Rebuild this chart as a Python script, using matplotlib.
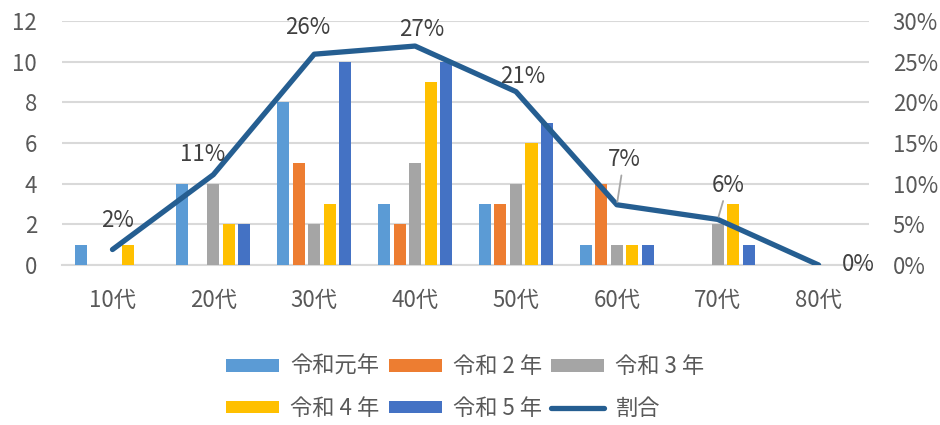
import matplotlib
matplotlib.use('Agg')
import matplotlib.pyplot as plt
import numpy as np
from matplotlib.ticker import FuncFormatter

plt.rcParams['font.family'] = ['Noto Sans CJK JP', 'DejaVu Sans']

# ── data ──
ages = ["10代", "20代", "30代", "40代", "50代", "60代", "70代", "80代"]
series_names = ["令和元年", "令和 2 年", "令和 3 年", "令和 4 年", "令和 5 年"]
r1 = [1, 4, 8, 3, 3, 1, 0, 0]
r2 = [0, 0, 5, 2, 3, 4, 0, 0]
r3 = [0, 4, 2, 5, 4, 1, 2, 0]
r4 = [1, 2, 3, 9, 6, 1, 3, 0]
r5 = [0, 2, 10, 10, 7, 1, 1, 0]
ratio = [0.019, 0.111, 0.259, 0.269, 0.213, 0.074, 0.056, 0.0]
ratio_labels = ["2%", "11%", "26%", "27%", "21%", "7%", "6%", "0%"]

# ── style ──
COLORS = ['#5B9BD5', '#ED7D31', '#A5A5A5', '#FFC000', '#4472C4']
LINE_COLOR = '#255E91'
TEXT = '#595959'
GRID = '#D9D9D9'
FS = 16
# label offsets in pixels (dx, dy) and whether a leader line is drawn
LABEL_OFFSETS = [(5, 29), (-11, 20), (-7, 27), (7, 17), (7, 15), (7, 45), (10, 34), (40, 0)]
LEADER = [False, False, False, False, False, True, True, False]

fig = plt.figure(figsize=(9.4, 4.25), dpi=100)
ax = fig.add_axes([0.066, 0.3765, 0.8585, 0.5745])
ax2 = ax.twinx()

x = np.arange(len(ages))
slot = 0.154
width = 0.12
handles = []
for i, vals in enumerate([r1, r2, r3, r4, r5]):
    h = ax.bar(x + (i - 2) * slot, vals, width, color=COLORS[i], label=series_names[i], zorder=3)
    handles.append(h)

ax.set_xlim(-0.5, 7.5)
ax.set_ylim(0, 12)
ax.set_yticks(range(0, 13, 2))
ax.set_xticks(x)
ax.set_xticklabels(ages)
ax.grid(axis='y', color=GRID, linewidth=1.5, zorder=0)
ax.set_axisbelow(True)
ax.tick_params(axis='y', length=0, pad=18, labelsize=FS, labelcolor=TEXT)
ax.tick_params(axis='x', length=0, pad=17, labelsize=FS, labelcolor=TEXT)
for s in ax.spines.values():
    s.set_visible(False)
ax.spines['bottom'].set_visible(True)
ax.spines['bottom'].set_color(GRID)
ax.spines['bottom'].set_linewidth(1.5)

ln, = ax2.plot(x, ratio, color=LINE_COLOR, linewidth=3.8, solid_capstyle='round',
               solid_joinstyle='round', label="割合", zorder=4)
ax2.set_ylim(0, 0.30)
ax2.set_yticks(np.arange(0, 0.301, 0.05))
ax2.yaxis.set_major_formatter(FuncFormatter(lambda v, p: f"{v*100:.0f}%"))
ax2.tick_params(axis='y', length=0, pad=17, labelsize=FS, labelcolor=TEXT)
for s in ax2.spines.values():
    s.set_visible(False)

for i, (xv, yv) in enumerate(zip(x, ratio)):
    dx, dy = LABEL_OFFSETS[i]
    props = None
    if LEADER[i]:
        props = dict(arrowstyle='-', color='#A6A6A6', lw=1.3, shrinkA=1, shrinkB=2)
    ax2.annotate(ratio_labels[i], (xv, yv), xytext=(dx, dy), textcoords='offset pixels',
                 ha='center', va='center', fontsize=FS, color='#404040',
                 arrowprops=props, zorder=5)

h = handles + [ln]
order = [0, 3, 1, 4, 2, 5]
fig.legend([h[k] for k in order], [h[k].get_label() for k in order],
           loc='center', bbox_to_anchor=(0.495, 0.088), ncol=3, frameon=False,
           fontsize=FS, labelcolor=TEXT, handlelength=2.4, handleheight=0.5,
           handletextpad=0.5, columnspacing=0.4, labelspacing=0.85)

fig.savefig('out.png', dpi=100)
